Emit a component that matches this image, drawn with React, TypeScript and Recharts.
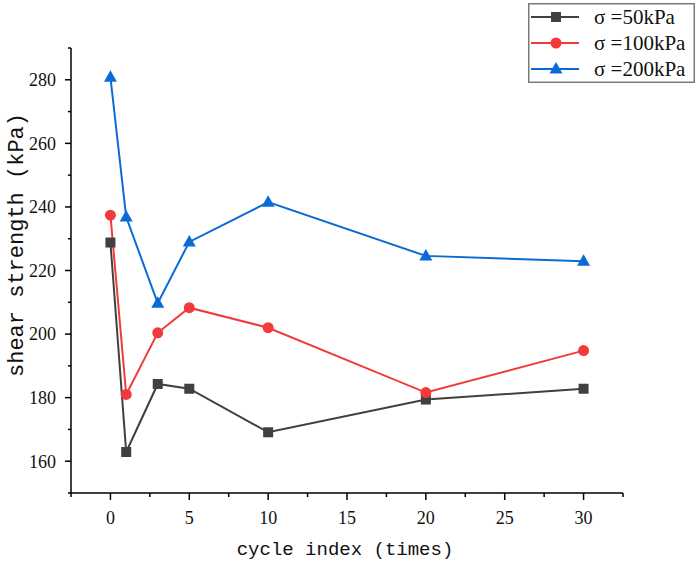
import { LineChart, Line, XAxis, YAxis } from "recharts"

const cycles = [0, 1, 3, 5, 10, 20, 30]
const sigma50 = [228.8, 162.9, 184.3, 182.8, 169.1, 179.4, 182.8]
const sigma100 = [237.4, 181.0, 200.4, 208.3, 202.0, 181.6, 194.8]
const sigma200 = [280.8, 236.8, 209.7, 229.0, 241.5, 224.6, 222.9]
const seriesNames = ["σ =50kPa", "σ =100kPa", "σ =200kPa"]
const xTicks = [-2.5, 0, 2.5, 5, 7.5, 10, 12.5, 15, 17.5, 20, 22.5, 25, 27.5, 30, 32.5]
const yTicks = [150, 160, 170, 180, 190, 200, 210, 220, 230, 240, 250, 260, 270, 280, 290]

const BLACK = "#404040"
const RED = "#f23a3a"
const BLUE = "#0b6bd6"

const SERIES = [
  { key: "s50", name: seriesNames[0], color: BLACK, shape: "square" },
  { key: "s100", name: seriesNames[1], color: RED, shape: "circle" },
  { key: "s200", name: seriesNames[2], color: BLUE, shape: "triangle" },
]

const data = cycles.map((c, i) => ({ cycle: c, s50: sigma50[i], s100: sigma100[i], s200: sigma200[i] }))

const SERIF = "'Liberation Serif', 'DejaVu Serif', serif"
const MONO = "'Liberation Mono', 'DejaVu Sans Mono', monospace"

function Marker({ cx, cy, shape, color }: { cx: number; cy: number; shape: string; color: string }) {
  if (shape === "square") return <rect x={cx - 5} y={cy - 5} width={10} height={10} fill={color} />
  if (shape === "circle") return <circle cx={cx} cy={cy} r={5.5} fill={color} />
  return <polygon points={`${cx},${cy - 7} ${cx - 6.5},${cy + 4.5} ${cx + 6.5},${cy + 4.5}`} fill={color} />
}

function XTick(props: any) {
  const { x, y, payload } = props
  const major = payload.value % 5 === 0
  return (
    <g>
      <line x1={x} x2={x} y1={y} y2={y + (major ? 7 : 4)} stroke="#000" strokeWidth={1.5} />
      {major && (
        <text x={x} y={y + 25} dy="0.35em" textAnchor="middle" fontFamily={SERIF} style={{ fontFamily: SERIF, fontSize: 18 }} fill="#111">
          {payload.value}
        </text>
      )}
    </g>
  )
}

function YTick(props: any) {
  const { x, y, payload } = props
  const major = payload.value % 20 === 0
  return (
    <g>
      <line x1={x - (major ? 6 : 3)} x2={x} y1={y} y2={y} stroke="#000" strokeWidth={1.5} />
      {major && (
        <text x={x - 15} y={y} dy="0.35em" textAnchor="end" fontFamily={SERIF} style={{ fontFamily: SERIF, fontSize: 18 }} fill="#111">
          {payload.value}
        </text>
      )}
    </g>
  )
}

function LegendBox() {
  return (
    <svg width={167} height={80} style={{ display: "block", position: "absolute", left: 528, top: 3 }}>
      <rect x={0.75} y={0.75} width={165.5} height={78.5} fill="white" stroke="#7a7a7a" strokeWidth={1.5} />
      {SERIES.map((s, i) => {
        const cy = 14 + i * 26
        return (
          <g key={s.key}>
            <line x1={3} x2={51} y1={cy} y2={cy} stroke={s.color} strokeWidth={2} />
            <Marker cx={28} cy={cy} shape={s.shape} color={s.color} />
            <text x={66} y={cy} dy="0.35em" style={{ fontFamily: SERIF, fontSize: 21 }} fill="#111">
              {s.name}
            </text>
          </g>
        )
      })}
    </svg>
  )
}

export default function App() {
  return (
    <div style={{ position: "absolute", left: 0, top: 0, width: 699, height: 561, background: "white" }}>
      <LineChart width={699} height={561} data={data} margin={{ top: 48, right: 76, left: 0, bottom: 18 }}>
        <XAxis
          dataKey="cycle"
          type="number"
          domain={[-2.5, 32.5]}
          ticks={xTicks}
          interval={0}
          height={50}
          tickSize={0}
          tickMargin={0}
          tickLine={false}
          tick={<XTick />}
          axisLine={{ stroke: "#000", strokeWidth: 1.5 }}
          label={{
            content: () => (
              <text x={345} y={548} dy="0.35em" textAnchor="middle" style={{ fontFamily: MONO, fontSize: 19 }} fill="#111">
                cycle index (times)
              </text>
            ),
          }}
        />
        <YAxis
          type="number"
          domain={[150, 290]}
          ticks={yTicks}
          interval={0}
          width={71}
          tickSize={0}
          tickMargin={0}
          tickLine={false}
          tick={<YTick />}
          axisLine={{ stroke: "#000", strokeWidth: 1.5 }}
          label={{
            content: () => (
              <text
                x={15}
                y={245}
                dy="0.35em"
                textAnchor="middle"
                transform="rotate(-90 15 245)"
                style={{ fontFamily: MONO, fontSize: 22 }}
                fill="#111"
              >
                shear strength (kPa)
              </text>
            ),
          }}
        />
        {SERIES.map((s) => (
          <Line
            key={s.key}
            dataKey={s.key}
            name={s.name}
            type="linear"
            stroke={s.color}
            strokeWidth={2}
            isAnimationActive={false}
            dot={(p: any) => <Marker key={`${s.key}-${p.index}`} cx={p.cx} cy={p.cy} shape={s.shape} color={s.color} />}
            activeDot={false}
          />
        ))}
      </LineChart>
      <LegendBox />
    </div>
  )
}
